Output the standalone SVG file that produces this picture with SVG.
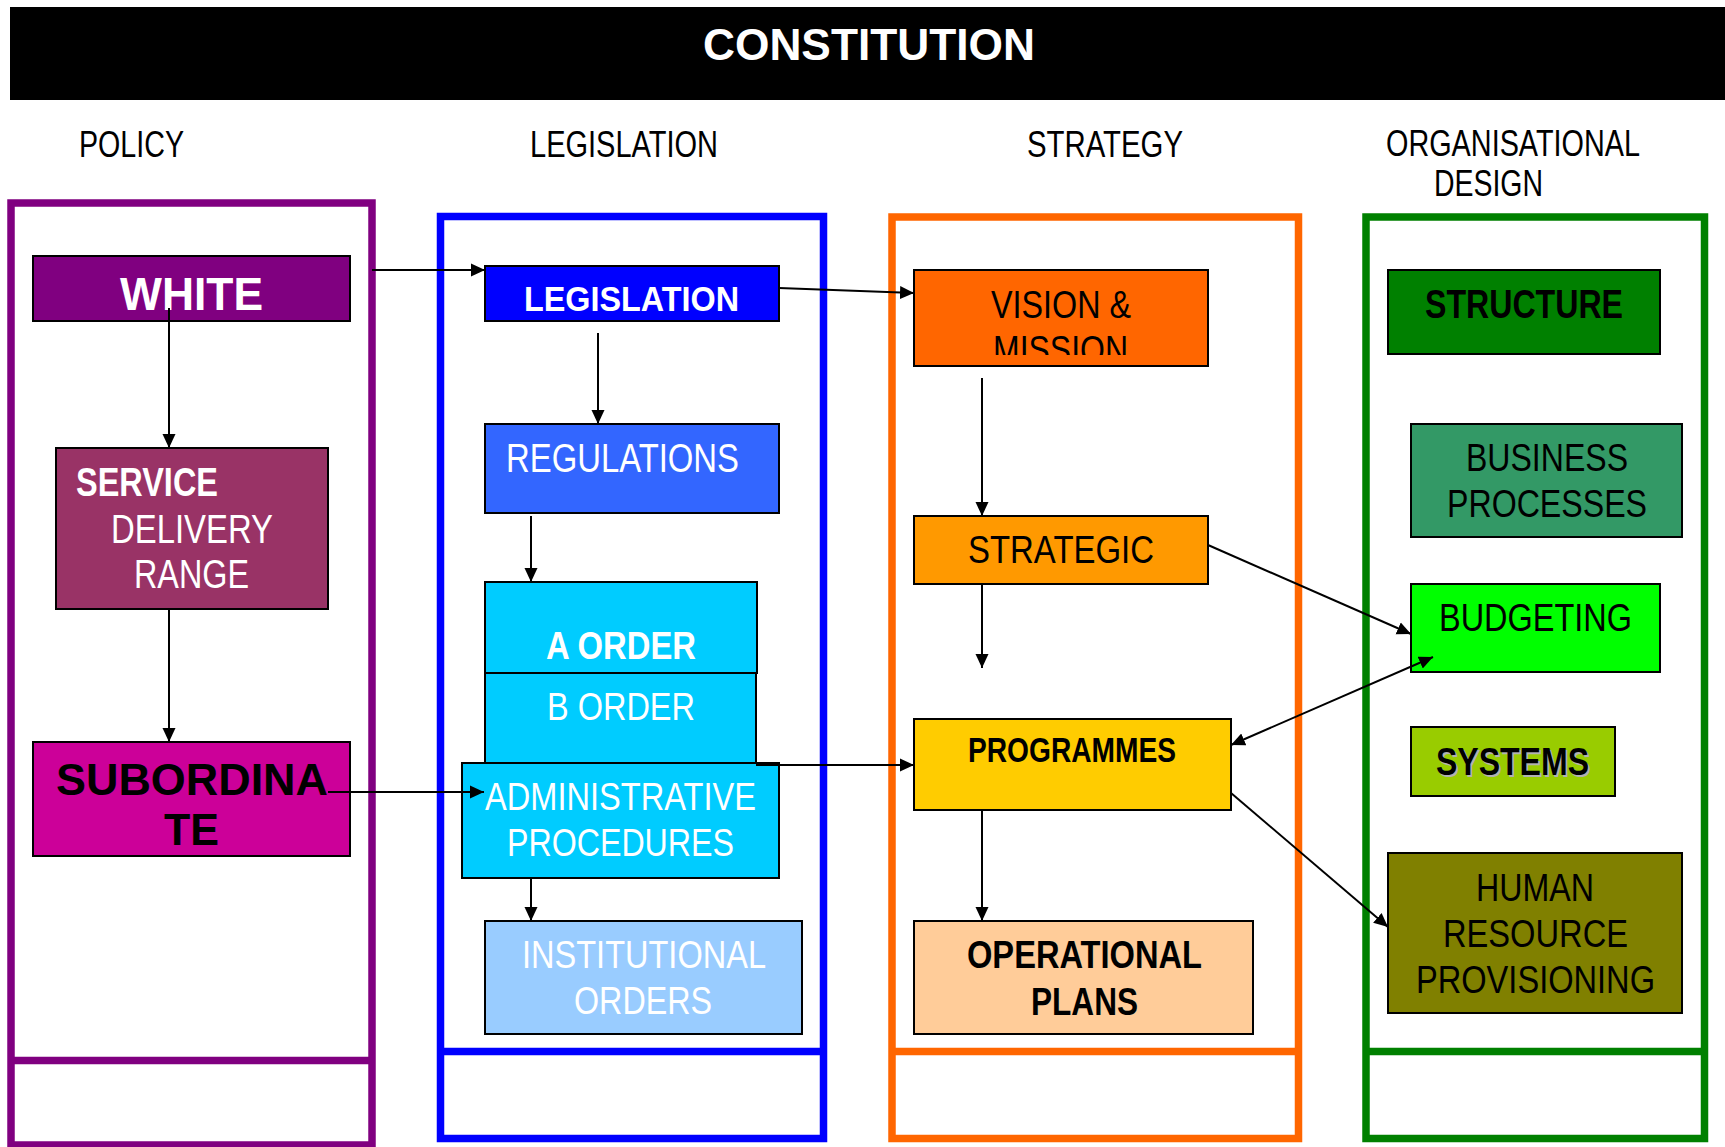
<svg xmlns="http://www.w3.org/2000/svg" width="1725" height="1147" viewBox="0 0 1725 1147">
<style>
.t{font-family:"Liberation Sans",Arial,sans-serif;}
.b{font-weight:bold;}
.w{fill:#ffffff;}
.k{fill:#000000;}
.col{fill:none;stroke-width:7.5;}
.box{stroke:#000;stroke-width:2;}
.con{fill:none;stroke:#000;stroke-width:2;}
</style>
<defs>
<marker id="ah" markerUnits="userSpaceOnUse" markerWidth="16" markerHeight="14" refX="14" refY="7" orient="auto-start-reverse" viewBox="0 0 16 14">
<path d="M0,0.5 L14,7 L0,13.5 z" fill="#000"/>
</marker>
<clipPath id="vclip"><rect x="914" y="270" width="294" height="85"/></clipPath>
</defs>
<rect x="0" y="0" width="1725" height="1147" fill="#fff"/>
<g id="banner">
<rect x="10" y="7" width="1715" height="93" fill="#000"/>
<text class="t b w" x="703" y="60" font-size="44" textLength="332" lengthAdjust="spacingAndGlyphs">CONSTITUTION</text>
</g>
<g id="headers" class="t k">
<text class="t k" x="79" y="157" font-size="36" textLength="105" lengthAdjust="spacingAndGlyphs">POLICY</text>
<text class="t k" x="530" y="157" font-size="36" textLength="188" lengthAdjust="spacingAndGlyphs">LEGISLATION</text>
<text class="t k" x="1027" y="157" font-size="36" textLength="156" lengthAdjust="spacingAndGlyphs">STRATEGY</text>
<text class="t k" x="1386" y="156" font-size="36" textLength="254" lengthAdjust="spacingAndGlyphs">ORGANISATIONAL</text>
<text class="t k" x="1434" y="196" font-size="36" textLength="109" lengthAdjust="spacingAndGlyphs">DESIGN</text>
</g>
<g id="columns">
<rect id="col-policy" class="col" x="11" y="203" width="361" height="942" stroke="#800080"/>
<line x1="11" y1="1060.5" x2="372" y2="1060.5" stroke="#800080" stroke-width="7.5"/>
<rect id="col-legislation" class="col" x="440.5" y="216.5" width="383" height="922" stroke="#0000FF"/>
<line x1="440.5" y1="1051.5" x2="823.5" y2="1051.5" stroke="#0000FF" stroke-width="7.5"/>
<rect id="col-strategy" class="col" x="892" y="217" width="406.5" height="921.5" stroke="#FF6600"/>
<line x1="892" y1="1051.5" x2="1298.5" y2="1051.5" stroke="#FF6600" stroke-width="7.5"/>
<rect id="col-org" class="col" x="1366" y="217" width="338.5" height="921.5" stroke="#008000"/>
<line x1="1366" y1="1051.5" x2="1704.5" y2="1051.5" stroke="#008000" stroke-width="7.5"/>
</g>
<g id="white">
<rect class="box" x="33" y="256" width="317" height="65" fill="#800080"/>
<text class="t b w" x="120" y="310" font-size="47" textLength="143" lengthAdjust="spacingAndGlyphs">WHITE</text>
</g>
<g id="service">
<rect class="box" x="56" y="448" width="272" height="161" fill="#993366"/>
<text class="t b w" x="76" y="496" font-size="40" textLength="142" lengthAdjust="spacingAndGlyphs">SERVICE</text>
<text class="t w" x="111" y="543" font-size="40" textLength="162" lengthAdjust="spacingAndGlyphs">DELIVERY</text>
<text class="t w" x="134" y="588" font-size="40" textLength="115" lengthAdjust="spacingAndGlyphs">RANGE</text>
</g>
<g id="subordinate">
<rect class="box" x="33" y="742" width="317" height="114" fill="#CC0099"/>
<text class="t b k" x="56" y="795" font-size="45" textLength="272" lengthAdjust="spacingAndGlyphs">SUBORDINA</text>
<text class="t b k" x="164" y="845" font-size="45" textLength="55" lengthAdjust="spacingAndGlyphs">TE</text>
</g>
<g id="legislation">
<rect class="box" x="485" y="266" width="294" height="55" fill="#0000FF"/>
<text class="t b w" x="524" y="311" font-size="35" textLength="215" lengthAdjust="spacingAndGlyphs">LEGISLATION</text>
</g>
<g id="regulations">
<rect class="box" x="485" y="424" width="294" height="89" fill="#3366FF"/>
<text class="t w" x="506" y="472" font-size="40" textLength="233" lengthAdjust="spacingAndGlyphs">REGULATIONS</text>
</g>
<g id="b-order">
<rect class="box" x="485" y="673" width="271" height="92" fill="#00CCFF"/>
<text class="t w" x="547" y="720" font-size="39" textLength="148" lengthAdjust="spacingAndGlyphs">B ORDER</text>
</g>
<g id="a-order">
<rect class="box" x="485" y="582" width="272" height="91" fill="#00CCFF"/>
<text class="t b w" x="546" y="659" font-size="38" textLength="150" lengthAdjust="spacingAndGlyphs">A ORDER</text>
</g>
<g id="administrative">
<rect class="box" x="462" y="763" width="317" height="115" fill="#00CCFF"/>
<text class="t w" x="485" y="810" font-size="39" textLength="271" lengthAdjust="spacingAndGlyphs">ADMINISTRATIVE</text>
<text class="t w" x="507" y="856" font-size="39" textLength="227" lengthAdjust="spacingAndGlyphs">PROCEDURES</text>
</g>
<g id="institutional">
<rect class="box" x="485" y="921" width="317" height="113" fill="#99CCFF"/>
<text class="t w" x="522" y="968" font-size="38" textLength="244" lengthAdjust="spacingAndGlyphs">INSTITUTIONAL</text>
<text class="t w" x="574" y="1014" font-size="38" textLength="138" lengthAdjust="spacingAndGlyphs">ORDERS</text>
</g>
<g id="vision">
<rect class="box" x="914" y="270" width="294" height="96" fill="#FF6600"/>
<text class="t k" x="991" y="318" font-size="39" textLength="140" lengthAdjust="spacingAndGlyphs">VISION &amp;</text>
<text class="t k" x="993" y="363" font-size="39" textLength="135" lengthAdjust="spacingAndGlyphs" clip-path="url(#vclip)">MISSION</text>
</g>
<g id="strategic">
<rect class="box" x="914" y="516" width="294" height="68" fill="#FF9900"/>
<text class="t k" x="968" y="563" font-size="38" textLength="186" lengthAdjust="spacingAndGlyphs">STRATEGIC</text>
</g>
<g id="programmes">
<rect class="box" x="914" y="719" width="317" height="91" fill="#FFCC00"/>
<text class="t b k" x="968" y="762" font-size="34.5" textLength="208" lengthAdjust="spacingAndGlyphs">PROGRAMMES</text>
</g>
<g id="operational">
<rect class="box" x="914" y="921" width="339" height="113" fill="#FFCC99"/>
<text class="t b k" x="967" y="968" font-size="39" textLength="235" lengthAdjust="spacingAndGlyphs">OPERATIONAL</text>
<text class="t b k" x="1031" y="1015" font-size="39" textLength="107" lengthAdjust="spacingAndGlyphs">PLANS</text>
</g>
<g id="structure">
<rect class="box" x="1388" y="270" width="272" height="84" fill="#008000"/>
<text class="t b k" x="1425" y="318" font-size="40" textLength="198" lengthAdjust="spacingAndGlyphs">STRUCTURE</text>
</g>
<g id="business">
<rect class="box" x="1411" y="424" width="271" height="113" fill="#339966"/>
<text class="t k" x="1466" y="471" font-size="38" textLength="162" lengthAdjust="spacingAndGlyphs">BUSINESS</text>
<text class="t k" x="1447" y="517" font-size="38" textLength="200" lengthAdjust="spacingAndGlyphs">PROCESSES</text>
</g>
<g id="budgeting">
<rect class="box" x="1411" y="584" width="249" height="88" fill="#00FF00"/>
<text class="t k" x="1439" y="631" font-size="38" textLength="193" lengthAdjust="spacingAndGlyphs">BUDGETING</text>
</g>
<g id="systems">
<rect class="box" x="1411" y="727" width="204" height="69" fill="#99CC00"/>
<text class="t b" x="1438" y="776.5" font-size="38" textLength="153" lengthAdjust="spacingAndGlyphs" fill="#B2B2B2">SYSTEMS</text>
<text class="t b k" x="1436" y="774.5" font-size="38" textLength="153" lengthAdjust="spacingAndGlyphs">SYSTEMS</text>
</g>
<g id="human">
<rect class="box" x="1388" y="853" width="294" height="160" fill="#808000"/>
<text class="t k" x="1476" y="901" font-size="39" textLength="118" lengthAdjust="spacingAndGlyphs">HUMAN</text>
<text class="t k" x="1443" y="947" font-size="39" textLength="185" lengthAdjust="spacingAndGlyphs">RESOURCE</text>
<text class="t k" x="1416" y="993" font-size="39" textLength="239" lengthAdjust="spacingAndGlyphs">PROVISIONING</text>
</g>
<g id="connectors">
<line class="con" x1="372" y1="270" x2="485" y2="270" marker-end="url(#ah)"/>
<line class="con" x1="169" y1="308" x2="169" y2="448" marker-end="url(#ah)"/>
<line class="con" x1="169" y1="609" x2="169" y2="742" marker-end="url(#ah)"/>
<line class="con" x1="328" y1="792" x2="484" y2="792" marker-end="url(#ah)"/>
<line class="con" x1="779" y1="288" x2="914" y2="293" marker-end="url(#ah)"/>
<line class="con" x1="598" y1="333" x2="598" y2="424" marker-end="url(#ah)"/>
<line class="con" x1="531" y1="516" x2="531" y2="582" marker-end="url(#ah)"/>
<line class="con" x1="531" y1="878" x2="531" y2="921" marker-end="url(#ah)"/>
<line class="con" x1="756" y1="765" x2="914" y2="765" marker-end="url(#ah)"/>
<line class="con" x1="982" y1="378" x2="982" y2="516" marker-end="url(#ah)"/>
<line class="con" x1="982" y1="584" x2="982" y2="668" marker-end="url(#ah)"/>
<line class="con" x1="1208" y1="545" x2="1411" y2="634" marker-end="url(#ah)"/>
<line class="con" x1="1231" y1="745" x2="1433" y2="657" marker-start="url(#ah)" marker-end="url(#ah)"/>
<line class="con" x1="1231" y1="793" x2="1388" y2="927" marker-end="url(#ah)"/>
<line class="con" x1="982" y1="810" x2="982" y2="921" marker-end="url(#ah)"/>
</g>
</svg>
